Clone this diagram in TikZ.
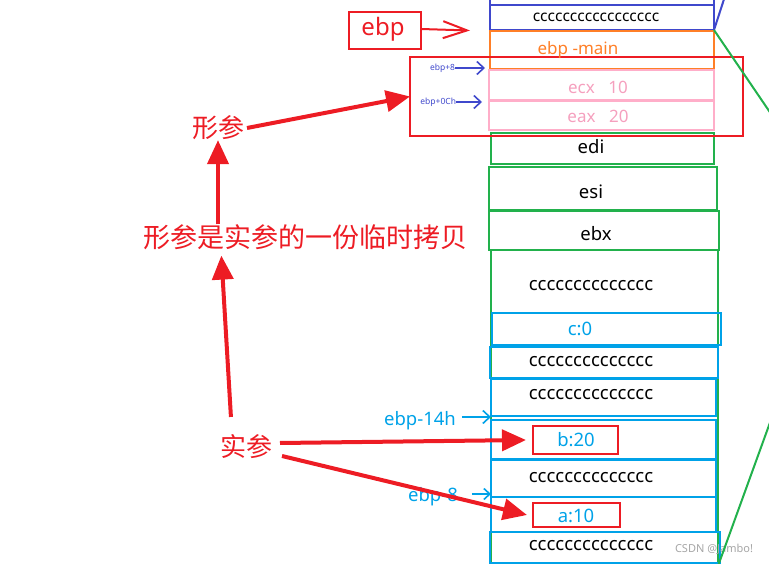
\documentclass[tikz,border=0pt]{standalone}
\usepackage{fontspec}
\setmainfont{Noto Sans}
\newfontfamily\cjk{Noto Sans CJK SC}
\usetikzlibrary{arrows.meta,calc}
\definecolor{pred}{RGB}{237,28,36}
\definecolor{porange}{RGB}{255,127,39}
\definecolor{pgreen}{RGB}{34,177,76}
\definecolor{pcyan}{RGB}{0,162,232}
\definecolor{pindigo}{RGB}{63,72,204}
\definecolor{ppink}{RGB}{255,174,201}
\definecolor{ptext}{RGB}{245,160,190}
\begin{document}
\begin{tikzpicture}[x=1pt,y=-1pt,
  every node/.style={inner sep=0pt,outer sep=0pt},
  cell/.style={draw=#1,line width=2pt,anchor=north west},
  txt/.style={font=\fontsize{18.5}{20}\selectfont},
  bigarrow/.style={draw=pred,line width=4pt,-{Triangle[length=24pt,width=21pt]}},
  thinarrow/.style={line width=1.6pt,-{Straight Barb[length=7pt,width=13pt]}},
  cjklbl/.style={text=pred,font=\cjk\fontsize{26}{28}\selectfont}
]
\useasboundingbox (0,0) rectangle (769,564);
\clip (0,0) rectangle (769,564);
% ---- upper stack
\node[cell=pindigo,minimum width=224pt,minimum height=35pt] (top0) at (490,-30) {};
\node[cell=pindigo,minimum width=224pt,minimum height=25pt] (top1) at (490,5) {};
\node[cell=porange,minimum width=224pt,minimum height=38pt] (mainb) at (490,31) {};
\node[cell=ppink,minimum width=225pt,minimum height=30pt] (ecx) at (489,70) {};
\node[cell=ppink,minimum width=225pt,minimum height=29pt] (eax) at (489,101) {};
\node[cell=pgreen,minimum width=223pt,minimum height=31pt] (edi) at (491,133) {};
\node[cell=pgreen,minimum width=228pt,minimum height=43pt] (esi) at (489,167) {};
\node[cell=pgreen,minimum width=230pt,minimum height=39pt] (ebx) at (489,211) {};
\node[cell=pgreen,minimum width=227pt,minimum height=330pt] (gbig) at (491,250) {};
% ---- lower stack
\node[cell=pcyan,minimum width=229pt,minimum height=32pt] (cc) at (492,313) {};
\node[cell=pcyan,minimum width=228pt,minimum height=31pt] (k1) at (490,347) {};
\node[cell=pcyan,minimum width=225pt,minimum height=37pt] (k2) at (491,379) {};
\node[cell=pcyan,minimum width=225pt,minimum height=39pt] (cb) at (491,420) {};
\node[cell=pcyan,minimum width=225pt,minimum height=37pt] (k3) at (491,460) {};
\node[cell=pcyan,minimum width=225pt,minimum height=35pt] (ca) at (491,497) {};
\node[cell=pcyan,minimum width=230pt,minimum height=31pt] (k4) at (490,532) {};
% ---- red boxes
\node[cell=pred,minimum width=333pt,minimum height=79pt] (bigred) at (410,57) {};
\node[cell=pred,minimum width=72pt,minimum height=37pt] (ebpbox) at (349,12) {};
\node[cell=pred,minimum width=85pt,minimum height=28pt] (bred) at (533,426) {};
\node[cell=pred,minimum width=87pt,minimum height=24pt] (ared) at (533,503) {};
% ---- cell texts
\node[font=\fontsize{15.5}{16}\selectfont] (t1) at (596,17) {ccccccccccccccccc};
\node[font=\fontsize{17}{18}\selectfont,text=porange] (tmain) at (578,50) {ebp -main};
\node[font=\fontsize{17}{18}\selectfont,text=ptext] (tecx) at (598,87) {ecx\hspace{0.8em}10};
\node[font=\fontsize{17}{18}\selectfont,text=ptext] (teax) at (598,116) {eax\hspace{0.8em}20};
\node[txt] (tedi) at (591,147) {edi};
\node[txt] (tesi) at (591,192) {esi};
\node[txt] (tebx) at (596,234) {ebx};
\node[txt] (tg) at (591,286) {cccccccccccccc};
\node[txt,text=pcyan] (tc) at (580,329) {c:0};
\node[txt] (tk1) at (591,362) {cccccccccccccc};
\node[txt] (tk2) at (591,395) {cccccccccccccc};
\node[txt,text=pcyan] (tb) at (576,440) {b:20};
\node[txt] (tk3) at (591,478) {cccccccccccccc};
\node[txt,text=pcyan] (ta) at (576,516) {a:10};
\node[txt] (tk4) at (591,546) {cccccccccccccc};
% ---- side labels
\node[font=\fontsize{24}{26}\selectfont,text=pred] (tebp) at (383,29) {ebp};
\node[font=\fontsize{8.5}{9}\selectfont,text=pindigo,anchor=east] (e8) at (455,68) {ebp+8};
\node[font=\fontsize{8.5}{9}\selectfont,text=pindigo,anchor=east] (e0c) at (456,102) {ebp+0Ch};
\node[txt,text=pcyan] (e14) at (420,421) {ebp-14h};
\node[txt,text=pcyan] (em8) at (433,497) {ebp-8};
\node[cjklbl] (xingcan) at (218,128) {形参};
\node[cjklbl,font=\cjk\fontsize{27}{29}\selectfont] (copy) at (305,237) {形参是实参的一份临时拷贝};
\node[cjklbl] (shican) at (246,447) {实参};
\node[font=\fontsize{11}{12}\selectfont,text=black!35] (wm) at (714,549) {CSDN @Jambo!};
% ---- diagonal lines
\draw[pindigo,line width=2pt] (top1.south east) -- ++(13,-40);
\draw[pgreen,line width=2pt] (top1.south east) -- ++(68,100);
\coordinate (gb) at (718,566);
\draw[pgreen,line width=2pt] (gb) -- ++(58,-160);
% ---- thin arrows
\draw[thinarrow,pred,-{Straight Barb[length=24pt,width=17pt]},line width=2pt] (ebpbox.east |- tebp) -- ([xshift=-20pt]ebpbox.east -| mainb.west);
\draw[thinarrow,pindigo] (e8.east) -- ([xshift=-4pt]e8.east -| ecx.west);
\draw[thinarrow,pindigo] (e0c.east) -- ([xshift=-7pt]e0c.east -| ecx.west);
\draw[thinarrow,pcyan] ([xshift=6pt,yshift=4pt]e14.east) -- ([yshift=3pt]cb.north west);
\draw[thinarrow,pcyan,-{Straight Barb[length=6pt,width=11pt]}] ([xshift=14pt,yshift=3pt]em8.east) -- ([yshift=3pt]ca.north west);
% ---- big red arrows
\draw[bigarrow] ([xshift=3pt]xingcan.east) -- (bigred.west);
\draw[bigarrow] (xingcan.south |- copy.north) -- (xingcan.south);
\draw[bigarrow,shorten <=18pt,shorten >=6pt] ([xshift=-14pt]shican.north) -- ([xshift=-84pt]copy.south);
\draw[bigarrow] ([xshift=8pt,yshift=4pt]shican.east) -- ([xshift=-7pt]bred.west);
\draw[bigarrow] ([xshift=10pt,yshift=-9pt]shican.east) -- ([xshift=-6pt]ared.west);
\end{tikzpicture}
\end{document}
